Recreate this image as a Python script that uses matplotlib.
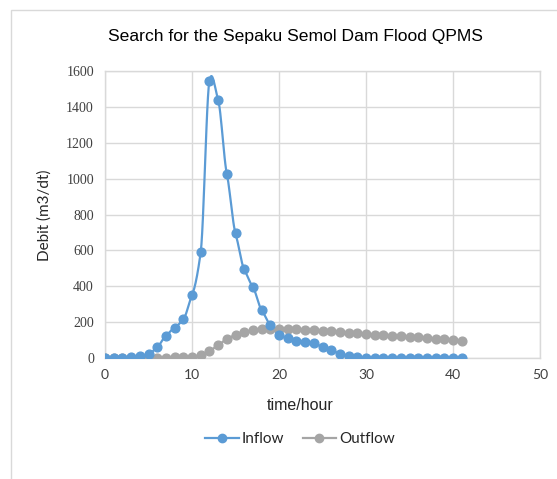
import numpy as np
import matplotlib
matplotlib.use("Agg")
import matplotlib.pyplot as plt
from matplotlib.patches import Rectangle

hours = list(range(0, 42))
inflow = [0, 0, 0, 5, 10, 20, 60, 125, 170, 215, 350, 590, 1545, 1440, 1028, 695,
          494, 395, 268, 185, 128, 110, 92, 88, 82, 62, 43, 24, 13, 5,
          0, 0, 0, 0, 0, 0, 0, 0, 0, 0, 0, 0]
outflow = [0, 0, 0, 0, 0, 0, 0, 0, 3, 5, 8, 15, 38, 72, 105, 130,
           146, 155, 161, 163, 163, 162, 160, 157, 154, 151, 148, 145, 142, 139,
           135, 131, 128, 125, 122, 118, 115, 111, 108, 104, 100, 96]

title = "Search for the Sepaku Semol Dam Flood QPMS"
xlabel = "time/hour"
ylabel = "Debit (m3/dt)"
xticks = [0, 10, 20, 30, 40, 50]
yticks = list(range(0, 1601, 200))

BLUE = "#5b9bd5"
GRAY = "#a5a5a5"


def smooth(x, y, n=12, k=0.6):
    x = np.asarray(x, float)
    y = np.asarray(y, float)
    m = len(x)
    # tangents
    dy = np.zeros(m)
    dy[1:-1] = (y[2:] - y[:-2]) / 2 * k
    dy[0] = (y[1] - y[0]) * k
    dy[-1] = (y[-1] - y[-2]) * k
    xs, ys = [], []
    t = np.linspace(0, 1, n, endpoint=False)
    h00 = 2 * t ** 3 - 3 * t ** 2 + 1
    h10 = t ** 3 - 2 * t ** 2 + t
    h01 = -2 * t ** 3 + 3 * t ** 2
    h11 = t ** 3 - t ** 2
    for i in range(m - 1):
        xs.extend(x[i] + t * (x[i + 1] - x[i]))
        ys.extend(h00 * y[i] + h10 * dy[i] + h01 * y[i + 1] + h11 * dy[i + 1])
    xs.append(x[-1])
    ys.append(y[-1])
    return np.array(xs), np.array(ys)


fig = plt.figure(figsize=(5.57, 4.79), dpi=100)
fig.patches.append(Rectangle((11 / 557, -0.2), 2.0, 1.2 - 10 / 479,
                             transform=fig.transFigure, fill=False,
                             edgecolor="#d9d9d9", linewidth=1.0))

ax = fig.add_axes([105 / 557, 1 - 358 / 479, (540 - 105) / 557, (358 - 71) / 479])

for ys, c in ((outflow, GRAY), (inflow, BLUE)):
    sx, sy = smooth(hours, ys)
    ax.plot(sx, sy, color=c, lw=1.6, zorder=3)
    ax.plot(hours, ys, linestyle="none", marker="o", ms=6.3, color=c, zorder=4)

ax.set_xlim(0, 50)
ax.set_ylim(0, 1600)
ax.set_xticks(xticks)
ax.set_yticks(yticks)
ax.grid(True, color="#d9d9d9", lw=1.0)
ax.set_axisbelow(True)
for s in ax.spines.values():
    s.set_color("#d9d9d9")
    s.set_linewidth(1.0)
ax.tick_params(length=0, pad=8)
for lab in ax.get_yticklabels():
    lab.set_fontfamily("Liberation Serif")
    lab.set_fontsize(10)
    lab.set_color("#404040")
for lab in ax.get_xticklabels():
    lab.set_fontfamily("Lato")
    lab.set_fontsize(10)
    lab.set_color("#404040")

fig.text(295 / 557, 1 - 37 / 479, title, ha="center", va="center",
         fontsize=12.6, family="Liberation Sans", color="#000000")
fig.text(300 / 557, 1 - 405 / 479, xlabel, ha="center", va="center",
         fontsize=11.5, family="Liberation Sans", color="#262626")
fig.text(45 / 557, 1 - 215 / 479, ylabel, ha="center", va="center",
         rotation=90, fontsize=11, family="Lato", color="#262626")

h1, = ax.plot([], [], color=BLUE, lw=1.6, marker="o", ms=6)
h2, = ax.plot([], [], color=GRAY, lw=1.6, marker="o", ms=6)
leg = fig.legend([h1, h2], ["Inflow", "Outflow"], loc="center",
                 bbox_to_anchor=(300 / 557, 1 - 439 / 479), ncol=2, frameon=False,
                 prop={"family": "Lato", "size": 11}, handlelength=2.2,
                 handletextpad=0.2, columnspacing=1.2)
for t in leg.get_texts():
    t.set_color("#262626")

fig.savefig("out.png", dpi=100)
